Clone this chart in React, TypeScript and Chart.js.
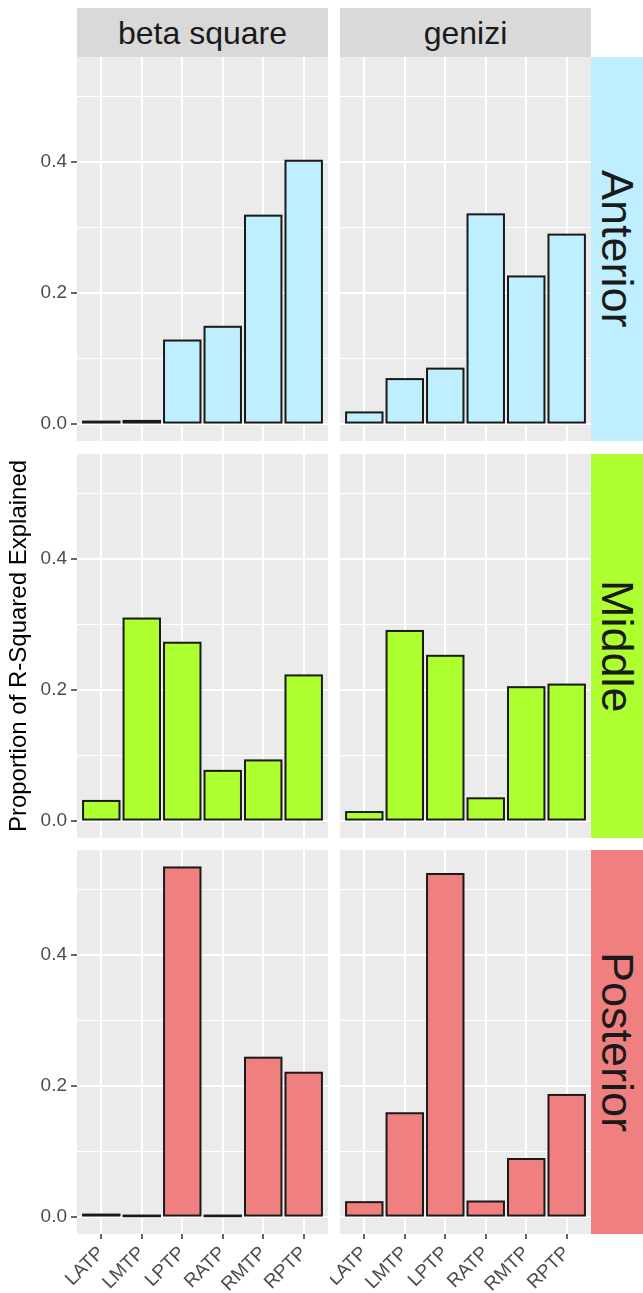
import React, { useEffect, useRef } from "react";
import { Chart, registerables } from "chart.js";

Chart.register(...registerables);

// ---------------- data ----------------
const CATEGORIES = ["LATP", "LMTP", "LPTP", "RATP", "RMTP", "RPTP"];
const METHODS = ["beta square", "genizi"];
const REGIONS = ["Anterior", "Middle", "Posterior"];
const REGION_COLORS = ["#BFEFFF", "#ADFF2F", "#F08080"];

const ANTERIOR_BETA = [0.003, 0.004, 0.127, 0.148, 0.318, 0.402];
const ANTERIOR_GENIZI = [0.017, 0.068, 0.084, 0.32, 0.225, 0.289];
const MIDDLE_BETA = [0.03, 0.309, 0.272, 0.076, 0.092, 0.222];
const MIDDLE_GENIZI = [0.013, 0.29, 0.252, 0.034, 0.204, 0.208];
const POSTERIOR_BETA = [0.003, 0.0005, 0.534, 0.0005, 0.243, 0.22];
const POSTERIOR_GENIZI = [0.022, 0.158, 0.524, 0.023, 0.088, 0.186];

const Y_TICKS = [0, 0.1, 0.2, 0.3, 0.4, 0.5];
const Y_TICK_LABELS = ["0.0", "", "0.2", "", "0.4", ""];
const Y_TITLE = "Proportion of R-Squared Explained";

const DATA = [
  [ANTERIOR_BETA, ANTERIOR_GENIZI],
  [MIDDLE_BETA, MIDDLE_GENIZI],
  [POSTERIOR_BETA, POSTERIOR_GENIZI],
];

// ---------------- layout ----------------
const FONT = '"Liberation Sans", Arial, Helvetica, sans-serif';
const PANEL_LEFT = [77, 340];
const PANEL_WIDTH = 251;
const PANEL_TOP = [57, 454, 850];
const PANEL_HEIGHT = 384;
const Y_AXIS_W = 77;
const X_AXIS_H = 1293 - 850 - 384;
const RIGHT_PAD = 10;
const STRIP_TOP = 8;
const STRIP_H = 49;
const RSTRIP_LEFT = 591;
const RSTRIP_W = 52;
const X_EXPAND = 0.6;

const ALL_VALUES = DATA.flat(2);
const MAX_V = Math.max(...ALL_VALUES);
const Y_MAX = MAX_V * 1.05;
const Y_MIN = -MAX_V * 0.05;

const isMajorY = (v: any) =>
  typeof v === "number" && Math.round(v * 10) % 2 === 0;

const panelBg = {
  id: "panelBg",
  beforeDraw(chart: any) {
    const { ctx, chartArea } = chart;
    ctx.save();
    ctx.fillStyle = "#EBEBEB";
    ctx.fillRect(chartArea.left, chartArea.top, chartArea.width, chartArea.height);
    ctx.restore();
  },
};

const barOutline = {
  id: "barOutline",
  afterDatasetsDraw(chart: any) {
    const ctx = chart.ctx;
    ctx.save();
    ctx.strokeStyle = "#1A1A1A";
    ctx.lineWidth = 2;
    chart.getDatasetMeta(0).data.forEach((el: any) => {
      const { x, y, base, width } = el.getProps(["x", "y", "base", "width"], true);
      const top = Math.min(y, base);
      const h = Math.abs(base - y);
      ctx.strokeRect(x - width / 2, top, width, h);
    });
    ctx.restore();
  },
};

function Panel({ row, col }: { row: number; col: number }) {
  const ref = useRef<HTMLCanvasElement>(null);
  const isLeft = col === 0;
  const isBottom = row === 2;
  const canvasLeft = isLeft ? 0 : PANEL_LEFT[1] - RIGHT_PAD;
  const canvasWidth = isLeft ? PANEL_LEFT[0] + PANEL_WIDTH : PANEL_WIDTH + RIGHT_PAD;
  const canvasTop = PANEL_TOP[row];
  const canvasHeight = PANEL_HEIGHT + (isBottom ? X_AXIS_H : 0);

  useEffect(() => {
    const values = DATA[row][col];
    const chart = new Chart(ref.current as HTMLCanvasElement, {
      type: "bar",
      data: {
        datasets: [
          {
            data: values.map((v, i) => ({ x: i, y: v })) as any,
            backgroundColor: REGION_COLORS[row],
            borderWidth: 0,
            barPercentage: 0.9,
            categoryPercentage: 1,
          },
        ],
      },
      options: {
        responsive: false,
        animation: false,
        devicePixelRatio: 1,
        layout: { padding: { left: isLeft ? 0 : RIGHT_PAD, right: 0, top: 0, bottom: 0 } },
        plugins: {
          legend: { display: false },
          tooltip: { enabled: false },
          title: { display: false },
        },
        scales: {
          x: {
            type: "linear",
            offset: false,
            min: -X_EXPAND,
            max: CATEGORIES.length - 1 + X_EXPAND,
            afterBuildTicks: (axis: any) => {
              axis.ticks = CATEGORIES.map((_, i) => ({ value: i }));
            },
            afterFit: (axis: any) => {
              axis.height = isBottom ? X_AXIS_H : 0;
              axis.paddingLeft = 0;
              axis.paddingRight = 0;
              axis.paddingTop = 0;
              axis.paddingBottom = 0;
            },
            ticks: {
              display: isBottom,
              autoSkip: false,
              minRotation: 45,
              maxRotation: 45,
              padding: 3,
              color: "#4D4D4D",
              font: { family: FONT, size: 19 },
              callback: (v: any) => CATEGORIES[Math.round(Number(v))] ?? "",
            },
            grid: {
              offset: false,
              color: "#FFFFFF",
              lineWidth: 2,
              drawTicks: isBottom,
              tickLength: 5,
              tickColor: "#333333",
              tickWidth: 1.5,
            },
            border: { display: false },
          } as any,
          y: {
            type: "linear",
            min: Y_MIN,
            max: Y_MAX,
            afterBuildTicks: (axis: any) => {
              axis.ticks = Y_TICKS.map((v) => ({ value: v }));
            },
            afterFit: (axis: any) => {
              axis.width = isLeft ? Y_AXIS_W : 0;
              axis.paddingTop = 0;
              axis.paddingBottom = 0;
              axis.paddingLeft = 0;
              axis.paddingRight = 0;
            },
            ticks: {
              display: isLeft,
              padding: 4,
              color: "#4D4D4D",
              font: { family: FONT, size: 19 },
              callback: (v: any) => {
                const i = Y_TICKS.findIndex((t) => Math.abs(t - Number(v)) < 1e-9);
                return i >= 0 ? Y_TICK_LABELS[i] : "";
              },
            },
            grid: {
              color: "#FFFFFF",
              lineWidth: (ctx: any) => (isMajorY(ctx.tick?.value) ? 2 : 1),
              drawTicks: isLeft,
              tickLength: 6,
              tickColor: (ctx: any) => (isMajorY(ctx.tick?.value) ? "#333333" : "rgba(0,0,0,0)"),
              tickWidth: 1.5,
            },
            border: { display: false },
            title: {
              display: isLeft && row === 1,
              text: Y_TITLE,
              color: "#000000",
              font: { family: FONT, size: 24 },
              padding: { top: 5, bottom: 0 },
            },
          } as any,
        },
      },
      plugins: [panelBg, barOutline],
    });
    return () => chart.destroy();
  }, []);

  return (
    <canvas
      ref={ref}
      width={canvasWidth}
      height={canvasHeight}
      style={{
        position: "absolute",
        left: canvasLeft,
        top: canvasTop,
        width: canvasWidth,
        height: canvasHeight,
      }}
    />
  );
}

export default function App() {
  return (
    <div
      style={{
        position: "absolute",
        left: 0,
        top: 0,
        width: 643,
        height: 1293,
        background: "#FFFFFF",
        overflow: "hidden",
      }}
    >
      {METHODS.map((m, c) => (
        <div
          key={m}
          style={{
            position: "absolute",
            left: PANEL_LEFT[c],
            top: STRIP_TOP,
            width: PANEL_WIDTH,
            height: STRIP_H,
            background: "#D9D9D9",
            display: "flex",
            alignItems: "center",
            justifyContent: "center",
            fontFamily: FONT,
            fontSize: 32,
            lineHeight: 1,
            color: "#1A1A1A",
          }}
        >
          {m}
        </div>
      ))}
      {REGIONS.map((r, i) => (
        <div
          key={r}
          style={{
            position: "absolute",
            left: RSTRIP_LEFT,
            top: PANEL_TOP[i],
            width: RSTRIP_W,
            height: PANEL_HEIGHT,
            background: REGION_COLORS[i],
            display: "flex",
            alignItems: "center",
            justifyContent: "center",
            writingMode: "vertical-rl",
            fontFamily: FONT,
            fontSize: 45,
            lineHeight: 1,
            color: "#1A1A1A",
          }}
        >
          {r}
        </div>
      ))}
      {[0, 1, 2].map((row) =>
        [0, 1].map((col) => <Panel key={`${row}-${col}`} row={row} col={col} />)
      )}
    </div>
  );
}
